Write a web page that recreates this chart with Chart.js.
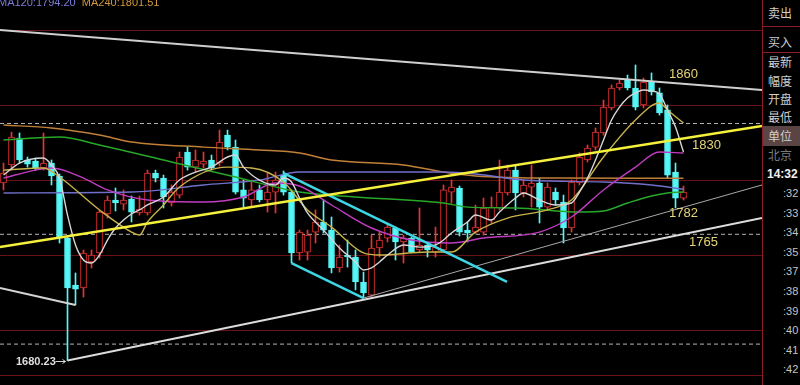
<!DOCTYPE html>
<html>
<head>
<meta charset="utf-8">
<script src="https://cdn.jsdelivr.net/npm/chart.js@4.4.1/dist/chart.umd.min.js"></script>
<style>
  html, body { margin: 0; padding: 0; background: #000; }
  #wrap { position: relative; width: 800px; height: 385px; overflow: hidden; background: #000;
          font-family: "Liberation Sans", Arial, sans-serif; }
  #plot { position: absolute; left: 0; top: 0; width: 762px; height: 385px; }
  .legend { position: absolute; top: -4px; left: -2px; font-size: 11px; line-height: 12px; white-space: nowrap; }
  .lvl { position: absolute; font-size: 13px; line-height: 13px; color: #e6d47a; }
  #low { position: absolute; left: 16px; top: 355px; font-size: 11px; line-height: 12px; font-weight: bold; color: #dedede; }
  #sep { position: absolute; left: 0; top: 375px; width: 762px; height: 1px; background: #6e1418; }
  #vline { position: absolute; left: 762px; top: 0; width: 1px; height: 385px; background: #8c1c24; }
  #side { position: absolute; left: 763px; top: 0; width: 37px; height: 385px; background: #000;
          font-family: "Noto Sans CJK SC", sans-serif; color: #cfcfcf; }
  #side .hl { position: absolute; left: 0; width: 37px; height: 1px; background: #8c1c24; }
  #side .t { position: absolute; left: 5px; font-size: 12px; line-height: 12px; white-space: nowrap; }
  #side .sel { position: absolute; left: 0; width: 37px; height: 20px; background: #5a4444;
               font-size: 12px; line-height: 20px; padding-left: 5px; box-sizing: border-box; }
  #side .dim { color: #7a7a7a; }
  #side .clock { font-family: "Liberation Sans", Arial, sans-serif; font-weight: bold; color: #f0f0f0; left: 4px; }
  #side .tm { position: absolute; left: 20px; font-family: "Liberation Sans", Arial, sans-serif;
              font-size: 11px; line-height: 12px; color: #c4c4c4; }
</style>
</head>
<body>
<div id="wrap">
  <div id="plot"><canvas id="kline" width="762" height="385"></canvas></div>
  <div id="sep"></div>
  <div id="vline"></div>
  <div class="legend"><span style="color:#7c7cdc">MA120:1794.20</span>&nbsp;&nbsp;<span style="color:#d49a3c">MA240:1801.51</span></div>
  <div class="lvl" style="left:669px;top:67px">1860</div>
  <div class="lvl" style="left:692px;top:138px">1830</div>
  <div class="lvl" style="left:669px;top:206px">1782</div>
  <div class="lvl" style="left:689px;top:235px">1765</div>
  <div id="low">1680.23</div>
  <div id="side">
    <div class="hl" style="top:26px"></div>
    <div class="hl" style="top:52px"></div>
    <div class="t" style="top:7px">卖出</div>
    <div class="t" style="top:36px">买入</div>
    <div class="t" style="top:56px">最新</div>
    <div class="t" style="top:75px">幅度</div>
    <div class="t" style="top:93px">开盘</div>
    <div class="t" style="top:111px">最低</div>
    <div class="sel" style="top:126px">单位</div>
    <div class="t dim" style="top:149px">北京</div>
    <div class="t clock" style="top:168px">14:32</div>
  </div>
</div>
<script>
// daily OHLC, one entry per candle
const open = [1798.3,1810.3,1828.2,1813.6,1812.9,1808.3,1811.6,1803.0,1761.7,1730.5,
  1728.5,1745.8,1751.8,1777.7,1787.0,1784.3,1787.7,1778.4,1778.4,1804.9,
  1801.6,1785.0,1790.3,1818.9,1808.9,1810.9,1813.6,1811.6,1830.2,1822.2,
  1793.7,1787.0,1793.7,1787.0,1792.3,1803.6,1792.3,1751.8,1752.4,1765.7,
  1772.4,1767.0,1741.8,1750.4,1749.1,1732.5,1723.8,1755.1,1761.7,1768.4,
  1759.1,1761.7,1753.8,1757.1,1752.4,1753.8,1792.3,1795.0,1767.0,1765.7,
  1765.7,1773.7,1781.7,1791.7,1806.9,1791.7,1795.6,1798.3,1782.3,1792.3,
  1785.7,1768.4,1798.3,1813.6,1822.2,1831.6,1848.2,1861.5,1866.8,1861.5,
  1850.2,1865.5,1858.2,1846.9,1805.6,1788.3];
const high = [1811.6,1832.2,1831.6,1815.6,1814.9,1831.6,1813.6,1804.3,1763.1,1738.5,
  1753.8,1753.8,1780.4,1789.7,1795.0,1793.7,1789.7,1789.7,1806.9,1806.9,
  1803.6,1797.0,1818.9,1822.2,1820.3,1818.9,1816.9,1833.5,1833.5,1826.9,
  1800.3,1800.3,1797.0,1804.9,1805.6,1806.3,1793.7,1767.0,1767.0,1780.4,
  1787.0,1775.7,1757.1,1760.4,1753.8,1739.1,1763.7,1765.7,1771.7,1769.0,
  1763.7,1762.4,1781.7,1759.1,1769.0,1797.0,1800.3,1796.3,1772.4,1783.7,
  1788.3,1789.0,1813.6,1810.3,1809.6,1800.3,1810.3,1801.6,1798.3,1795.0,
  1790.3,1800.3,1818.3,1823.6,1834.9,1853.5,1863.5,1866.8,1870.1,1876.8,
  1868.1,1871.5,1861.5,1850.2,1811.6,1796.3];
const low = [1793.7,1806.9,1811.6,1808.9,1806.9,1806.9,1797.0,1758.4,1680.23,1717.2,
  1722.5,1741.8,1748.4,1775.0,1779.7,1780.4,1772.4,1777.0,1777.0,1799.0,
  1781.7,1783.0,1788.3,1806.9,1805.6,1808.3,1806.9,1809.6,1820.3,1791.0,
  1782.3,1782.3,1785.7,1779.0,1778.4,1790.3,1745.1,1747.1,1747.1,1758.4,
  1765.1,1738.5,1739.1,1742.4,1727.2,1721.8,1721.8,1749.1,1759.1,1747.1,
  1745.1,1751.8,1752.4,1749.1,1749.1,1752.4,1785.0,1763.1,1759.1,1764.4,
  1763.7,1771.7,1780.4,1790.3,1780.4,1789.0,1782.3,1771.7,1780.4,1783.7,
  1758.4,1765.7,1797.0,1812.3,1820.3,1830.2,1846.9,1860.2,1860.2,1846.9,
  1848.2,1856.8,1843.5,1801.6,1781.7,1787.0];
const close = [1804.9,1828.9,1813.6,1810.9,1808.3,1811.6,1803.0,1762.4,1728.5,1727.8,
  1751.8,1750.4,1779.0,1787.0,1785.0,1787.0,1779.0,1781.0,1804.9,1801.6,
  1789.0,1792.3,1815.6,1808.9,1813.6,1812.9,1808.3,1825.6,1822.2,1792.3,
  1788.3,1793.7,1787.0,1792.3,1800.3,1792.3,1751.8,1765.7,1763.7,1772.4,
  1767.0,1741.8,1749.1,1749.1,1732.5,1725.2,1755.1,1760.4,1769.0,1759.1,
  1761.7,1752.4,1757.1,1753.8,1755.7,1793.7,1795.6,1765.7,1765.1,1769.0,
  1781.7,1782.3,1792.3,1806.9,1791.7,1797.0,1798.3,1782.3,1795.6,1787.0,
  1768.4,1799.0,1815.6,1821.6,1832.2,1848.8,1861.5,1864.8,1861.5,1848.8,
  1865.5,1858.8,1844.9,1803.6,1788.3,1792.3];

// moving averages: [candle index, price]
const ma5 = [[0,1803.6],[2,1811.6],[5,1814.9],[6,1810.3],[7,1801.6],[8,1777.0],[9,1757.1],[10,1747.1],
  [11,1745.1],[12,1750.4],[13,1760.4],[14,1768.4],[15,1773.7],[16,1777.7],[17,1780.4],[18,1783.7],
  [20,1789.0],[22,1800.3],[24,1805.6],[26,1808.9],[28,1815.6],[29,1816.9],[30,1808.9],[32,1800.3],
  [34,1797.0],[35,1801.6],[36,1799.0],[37,1788.3],[38,1778.4],[40,1767.0],[42,1755.1],[44,1745.8],
  [45,1740.5],[46,1741.8],[47,1745.8],[48,1750.4],[50,1757.1],[52,1755.7],[54,1757.1],[55,1760.4],
  [56,1765.1],[58,1772.4],[59,1777.0],[61,1773.7],[62,1779.0],[64,1788.3],[65,1791.7],[67,1787.0],
  [69,1783.7],[71,1785.0],[72,1792.3],[73,1801.6],[74,1813.6],[75,1826.9],[76,1840.2],[77,1848.8],
  [78,1854.8],[79,1858.2],[80,1860.2],[81,1859.5],[82,1857.5],[83,1846.9],[84,1835.5],[85,1818.9]];
const ma10 = [[0,1806.9],[5,1808.3],[7,1802.3],[12,1780.4],[16,1765.7],[17,1763.7],[18,1772.4],
  [20,1783.7],[22,1795.7],[28,1808.9],[31,1808.3],[35,1799.0],[38,1780.4],[41,1769.0],[45,1751.8],
  [47,1750.4],[53,1752.4],[56,1752.4],[59,1765.7],[63,1775.0],[68,1780.4],[71,1787.0],[75,1815.6],
  [79,1840.2],[82,1851.5],[83,1846.9],[85,1838.2]];
const ma20 = [[0,1801.6],[4,1806.9],[6,1808.3],[10,1801.6],[13,1793.7],[18,1787.0],[25,1785.7],
  [30,1789.0],[34,1798.3],[37,1796.3],[41,1783.7],[46,1768.4],[51,1760.4],[56,1758.4],[60,1761.7],
  [67,1765.7],[71,1775.7],[75,1793.7],[79,1808.9],[82,1818.9],[85,1818.3]];
const ma60 = [[0,1826.9],[7,1828.9],[12,1823.6],[21,1812.3],[29,1802.3],[37,1792.3],[44,1789.0],
  [55,1785.0],[58,1782.3],[64,1781.7],[72,1779.0],[75,1779.7],[78,1785.0],[81,1789.7],[83,1791.7],[85,1792.3]];
const ma120 = [[0,1791.7],[16,1792.3],[25,1797.0],[32,1800.3],[37,1805.6],[55,1805.6],[59,1804.3],
  [65,1800.3],[75,1799.0],[81,1797.0],[85,1794.2]];
const ma240 = [[0,1836.9],[6,1834.9],[12,1830.2],[16,1825.6],[25,1822.2],[32,1820.3],[37,1818.3],
  [41,1813.6],[50,1810.3],[55,1805.6],[59,1803.0],[69,1801.6],[85,1801.5]];

// hand-drawn trend lines: [candle index, price]
const topLine = [[-0.44,1900.05],[94.81,1860.15]];
const yellowLine = [[-0.44,1755.7],[94.81,1836.2]];
const cyanUpper = [[35,1804.9],[62.94,1732.5]];
const cyanLower = [[36,1745.1],[45,1721.8]];
const whiteA = [[-0.44,1728.5],[9,1717.2]];
const whiteB = [[8,1680.23],[94.81,1775.0]];
const whiteC = [[45,1721.8],[94.81,1797.0]];
const dashLevels = [1837.9, 1764.2, 1691.2];
const timeLabels = [':32',':33',':34',':35',':37',':38',':39',':40',':41',':42'];

const side = document.getElementById('side');
timeLabels.forEach((t, k) => {
  const d = document.createElement('div');
  d.className = 'tm';
  d.style.top = Math.round(187 + 19.6 * k) + 'px';
  d.textContent = t;
  side.appendChild(d);
});

const xMin = -0.4375, xMax = 94.8125;
const upColor = 'rgb(232,52,52)', downColor = 'rgb(84,246,246)';
const idx = open.map((_, i) => i);
const isUp = idx.map(i => close[i] >= open[i]);
const pts = a => a.map(([x, y]) => ({x, y}));

function trend(data, color, width, order) {
  return {type: 'line', data: pts(data), borderColor: color, borderWidth: width,
          pointRadius: 0, tension: 0, fill: false, order: order};
}
function avg(data, color) {
  return {type: 'line', data: pts(data), borderColor: color, borderWidth: 1.4,
          pointRadius: 0, cubicInterpolationMode: 'monotone', fill: false, order: 1};
}

const datasets = [
  trend(topLine, '#cfcfcf', 2, 0),
  trend(yellowLine, '#f4f03c', 2.5, 0),
  trend(cyanUpper, '#3ed6e2', 2.5, 0),
  trend(cyanLower, '#3ed6e2', 2.5, 0),
  trend(whiteA, '#d4d4d4', 2, 0),
  trend(whiteB, '#dcdcdc', 2, 0),
  trend(whiteC, '#a8a8a8', 1, 0),
  avg(ma5, '#d6d6d6'),
  avg(ma10, '#c8b24a'),
  avg(ma20, '#c03cc0'),
  avg(ma60, '#28a828'),
  avg(ma120, '#7070cc'),
  avg(ma240, '#c08038'),
  {type: 'bar', data: idx.map(i => ({x: i, y: [open[i], close[i]]})),
   backgroundColor: isUp.map(u => u ? '#000' : downColor),
   borderColor: isUp.map(u => u ? upColor : downColor),
   borderWidth: 1, borderSkipped: false, barThickness: 6, grouped: false, order: 2},
  {type: 'bar', data: idx.map(i => ({x: i, y: [low[i], high[i]]})),
   backgroundColor: isUp.map(u => u ? upColor : downColor),
   borderWidth: 0, barThickness: 1, grouped: false, order: 3}
];
dashLevels.forEach(v => datasets.push({
  type: 'line', data: [{x: xMin, y: v}, {x: xMax, y: v}], borderColor: '#b4b4b4',
  borderWidth: 1, borderDash: [4, 3], pointRadius: 0, fill: false, order: 4
}));

// small arrow pointing at the lowest wick
const lowArrow = {
  id: 'lowArrow',
  afterDatasetsDraw(chart) {
    const xs = chart.scales.x, ys = chart.scales.y;
    const x = xs.getPixelForValue(8), y = Math.round(ys.getPixelForValue(low[8])) + 0.5;
    const c = chart.ctx;
    c.save();
    c.strokeStyle = '#d8d8d8';
    c.lineWidth = 1;
    c.beginPath();
    c.moveTo(x - 12, y); c.lineTo(x - 2, y);
    c.moveTo(x - 5, y - 2); c.lineTo(x - 2, y); c.lineTo(x - 5, y + 2);
    c.stroke();
    c.restore();
  }
};

new Chart(document.getElementById('kline'), {
  type: 'bar',
  data: {datasets},
  options: {
    responsive: false,
    animation: false,
    devicePixelRatio: 1,
    layout: {padding: 0},
    plugins: {legend: {display: false}, tooltip: {enabled: false}},
    scales: {
      x: {type: 'linear', min: xMin, max: xMax, display: false, offset: false},
      y: {
        min: 1664, max: 1920,
        ticks: {display: false, stepSize: 50},
        border: {display: false},
        grid: {
          drawTicks: false,
          color: ctx => (ctx.tick && ctx.tick.value % 50 === 0) ? '#6a1216' : 'transparent'
        }
      }
    }
  },
  plugins: [lowArrow]
});
</script>
</body>
</html>
